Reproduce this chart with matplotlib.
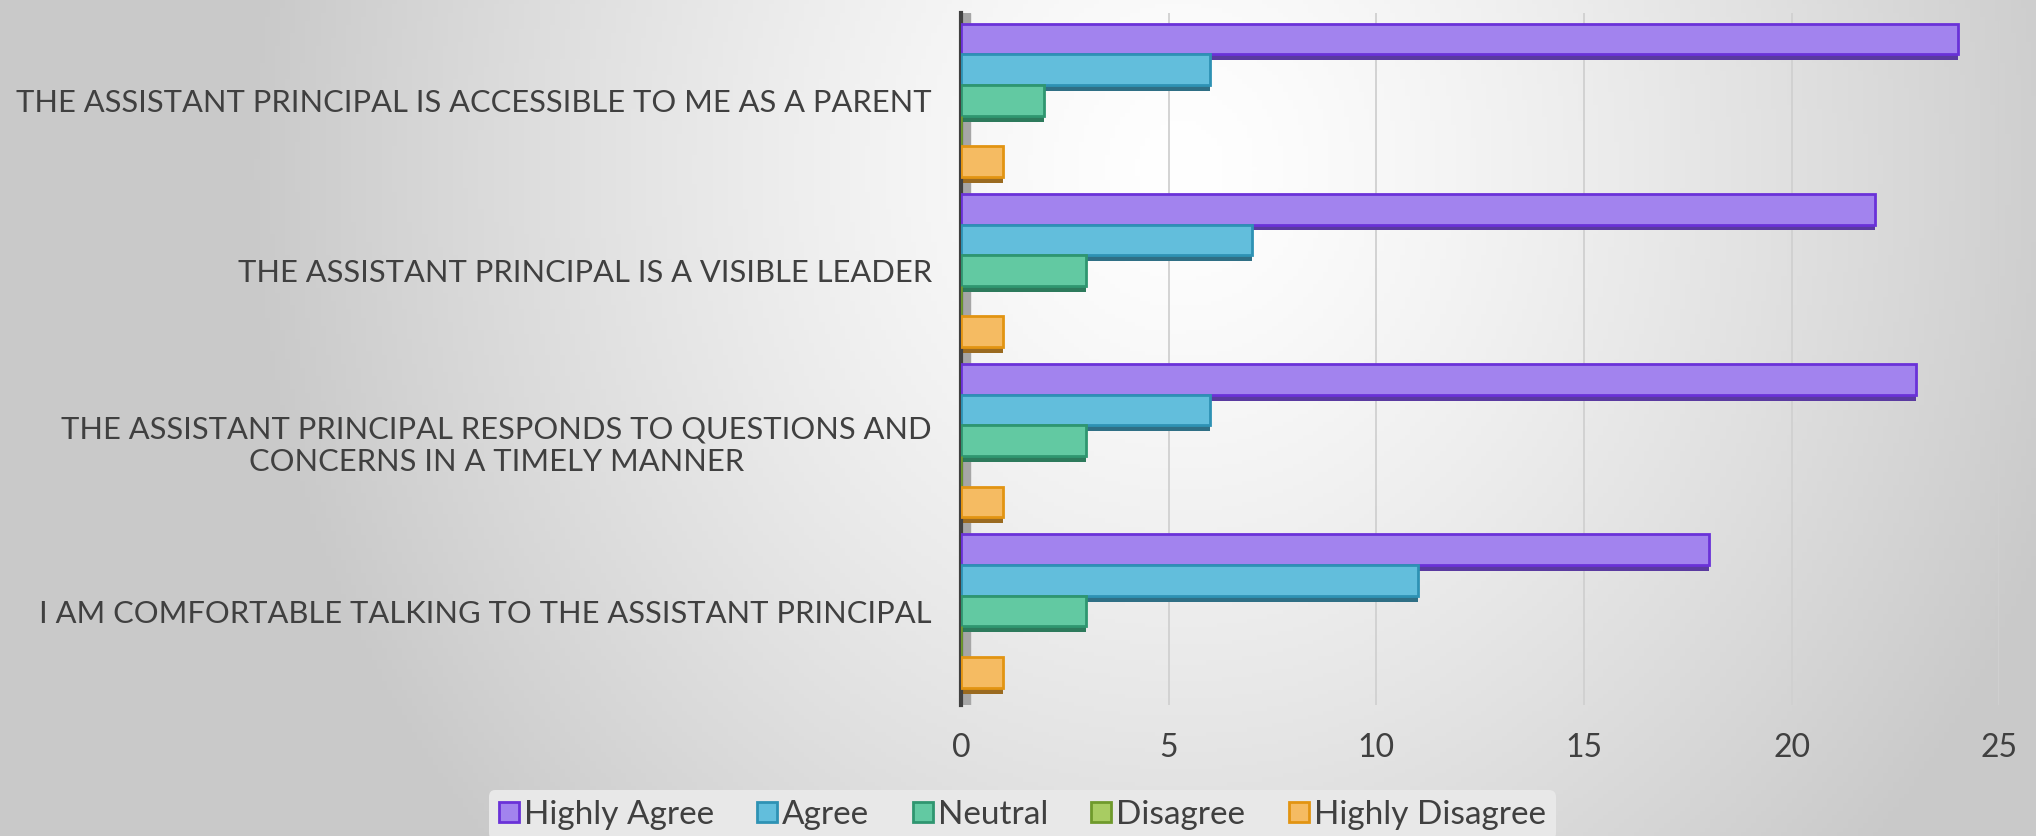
import numpy as np
import matplotlib.pyplot as plt
from matplotlib.lines import Line2D

plt.rcParams["font.family"] = ["Lato", "DejaVu Sans"]

categories = [
    "THE ASSISTANT PRINCIPAL IS ACCESSIBLE TO ME AS A PARENT",
    "THE ASSISTANT PRINCIPAL IS A VISIBLE LEADER",
    "THE ASSISTANT PRINCIPAL RESPONDS TO QUESTIONS AND\nCONCERNS IN A TIMELY MANNER",
    "I AM COMFORTABLE TALKING TO THE ASSISTANT PRINCIPAL",
]
series = ["Highly Agree", "Agree", "Neutral", "Disagree", "Highly Disagree"]
highly_agree = [24, 22, 23, 18]
agree = [6, 7, 6, 11]
neutral = [2, 3, 3, 3]
disagree = [0, 0, 0, 0]
highly_disagree = [1, 1, 1, 1]
values = [highly_agree, agree, neutral, disagree, highly_disagree]
xticks = [0, 5, 10, 15, 20, 25]

face = ["#a283ee", "#62bedc", "#62c9a2", "#a8cc62", "#f5bb62"]
edge = ["#6a32d8", "#2e92b4", "#2f9670", "#6f9a2c", "#e29412"]
dark = ["#5a3aa0", "#2f6f85", "#2d7a5c", "#5f7a2a", "#9a6a20"]
text_c = "#404040"

fig = plt.figure(figsize=(20.36, 8.36), dpi=100)

# background radial gradient
bg = fig.add_axes([0, 0, 1, 1], zorder=-10)
gx, gy = np.meshgrid(np.linspace(0, 1, 400), np.linspace(0, 1, 200))
r = np.sqrt(((gx - 0.58) * 2.4) ** 2 + ((gy - 0.8) * 0.9) ** 2)
shade = 1.0 - 0.21 * np.clip(r / 1.1, 0, 1) ** 1.3
bg.imshow(np.dstack([shade] * 3), extent=[0, 1, 0, 1], origin="lower", aspect="auto")
bg.axis("off")

ax = fig.add_axes([0.472, 0.157, 0.510, 0.827])
ax.set_facecolor("none")

y = np.arange(len(categories))
h = 0.18
offs = [-0.36, -0.18, 0.0, 0.18, 0.36]

ax.axvspan(0, 0.22, color="#a6a6a6", zorder=1)
for i, s in enumerate(series):
    ax.barh(y + offs[i] + 0.035, values[i], height=h, color=dark[i], zorder=2)
    ax.barh(y + offs[i], values[i], height=h, color=face[i], edgecolor=edge[i],
            linewidth=2, zorder=3)

ax.set_xlim(0, 25)
ax.set_ylim(3.55, -0.51)
ax.set_xticks(xticks)
ax.set_yticks(y)
ax.set_yticklabels(categories, multialignment="center")
ax.tick_params(axis="x", length=0, pad=20, labelsize=23, labelcolor=text_c)
ax.tick_params(axis="y", length=0, pad=21, labelsize=22.2, labelcolor=text_c)
ax.grid(axis="x", color="#d0d0d0", linewidth=1.3, zorder=0)
for sp in ["top", "right", "bottom"]:
    ax.spines[sp].set_visible(False)
ax.spines["left"].set_color("#404040")
ax.spines["left"].set_linewidth(3)

handles = [Line2D([], [], marker="s", linestyle="none", markersize=15,
                  markerfacecolor=face[i], markeredgecolor=edge[i], markeredgewidth=2)
           for i in range(len(series))]
leg = fig.legend(handles, series, loc="center", bbox_to_anchor=(0.502, 0.025), ncol=5,
                 fontsize=24, frameon=True, handlelength=0.6, handletextpad=0.15,
                 columnspacing=1.3, borderpad=0.3)
leg.get_frame().set_facecolor("#e8e8e8")
leg.get_frame().set_edgecolor("none")
leg.get_frame().set_alpha(1)
for t in leg.get_texts():
    t.set_color(text_c)

plt.savefig("out.png", dpi=100)
